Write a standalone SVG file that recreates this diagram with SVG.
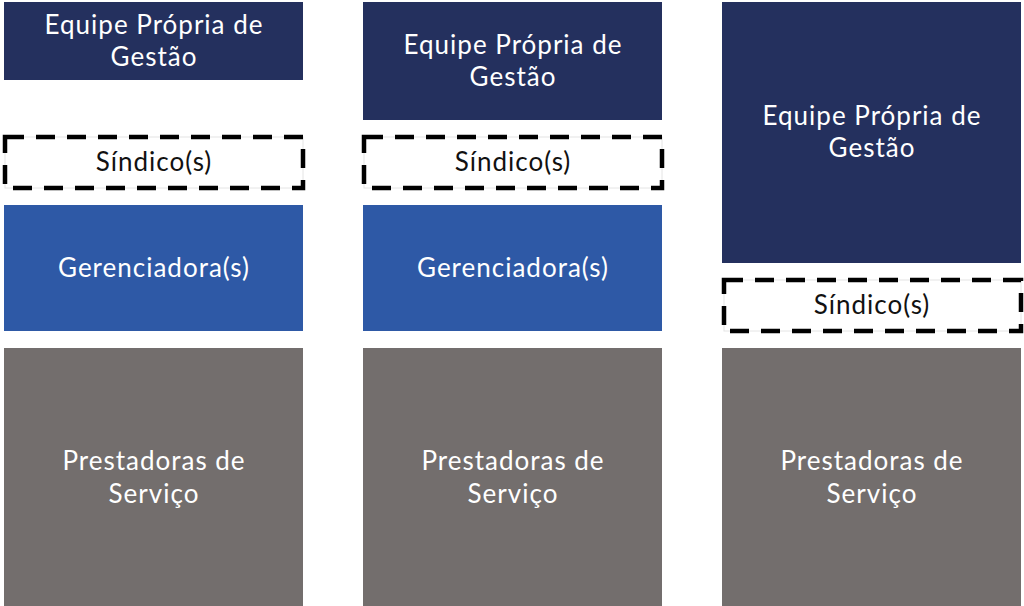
<svg xmlns="http://www.w3.org/2000/svg" width="1024" height="606" viewBox="0 0 1024 606">
<style>
.navy{fill:#24305e}
.blue{fill:#2e59a6}
.gray{fill:#736e6d}
.t{font-family:Lato,"Open Sans","Liberation Sans",sans-serif;font-size:26px;letter-spacing:1px;text-anchor:middle;fill:#fff}
.tk{font-family:Lato,"Open Sans","Liberation Sans",sans-serif;font-size:26px;letter-spacing:1px;text-anchor:middle;fill:#111}
.thin{fill:#fff;stroke:#e4e4e4;stroke-width:1}
.dash{fill:none;stroke:#000;stroke-width:4.5;stroke-dasharray:19 12}
</style>
<rect width="1024" height="606" fill="#fff"/>
<g id="col1-equipe"><rect class="navy" x="4" y="2" width="299" height="78"/><text class="t" x="154" y="34">Equipe Própria de</text><text class="t" x="154" y="66">Gestão</text></g>
<g id="col1-sindico"><rect class="thin" x="5" y="137" width="298" height="51"/><rect class="dash" x="5" y="137" width="298" height="51"/><text class="tk" x="154" y="171">Síndico(s)</text></g>
<g id="col1-gerenciadora"><rect class="blue" x="4" y="205" width="299" height="126"/><text class="t" x="154" y="277">Gerenciadora(s)</text></g>
<g id="col1-prestadoras"><rect class="gray" x="4" y="348" width="299" height="258"/><text class="t" x="154" y="470">Prestadoras de</text><text class="t" x="154" y="503">Serviço</text></g>
<g id="col2-equipe"><rect class="navy" x="363" y="2" width="299" height="118"/><text class="t" x="513" y="54">Equipe Própria de</text><text class="t" x="513" y="86">Gestão</text></g>
<g id="col2-sindico"><rect class="thin" x="364" y="137" width="298" height="51"/><rect class="dash" x="364" y="137" width="298" height="51"/><text class="tk" x="513" y="171">Síndico(s)</text></g>
<g id="col2-gerenciadora"><rect class="blue" x="363" y="205" width="299" height="126"/><text class="t" x="513" y="277">Gerenciadora(s)</text></g>
<g id="col2-prestadoras"><rect class="gray" x="363" y="348" width="299" height="258"/><text class="t" x="513" y="470">Prestadoras de</text><text class="t" x="513" y="503">Serviço</text></g>
<g id="col3-equipe"><rect class="navy" x="722" y="2" width="299" height="261"/><text class="t" x="872" y="125">Equipe Própria de</text><text class="t" x="872" y="157">Gestão</text></g>
<g id="col3-sindico"><rect class="thin" x="724" y="280" width="297" height="51"/><rect class="dash" x="724" y="280" width="297" height="51"/><text class="tk" x="872" y="314">Síndico(s)</text></g>
<g id="col3-prestadoras"><rect class="gray" x="722" y="348" width="299" height="258"/><text class="t" x="872" y="470">Prestadoras de</text><text class="t" x="872" y="503">Serviço</text></g>
<g id="connectors"></g>
</svg>
